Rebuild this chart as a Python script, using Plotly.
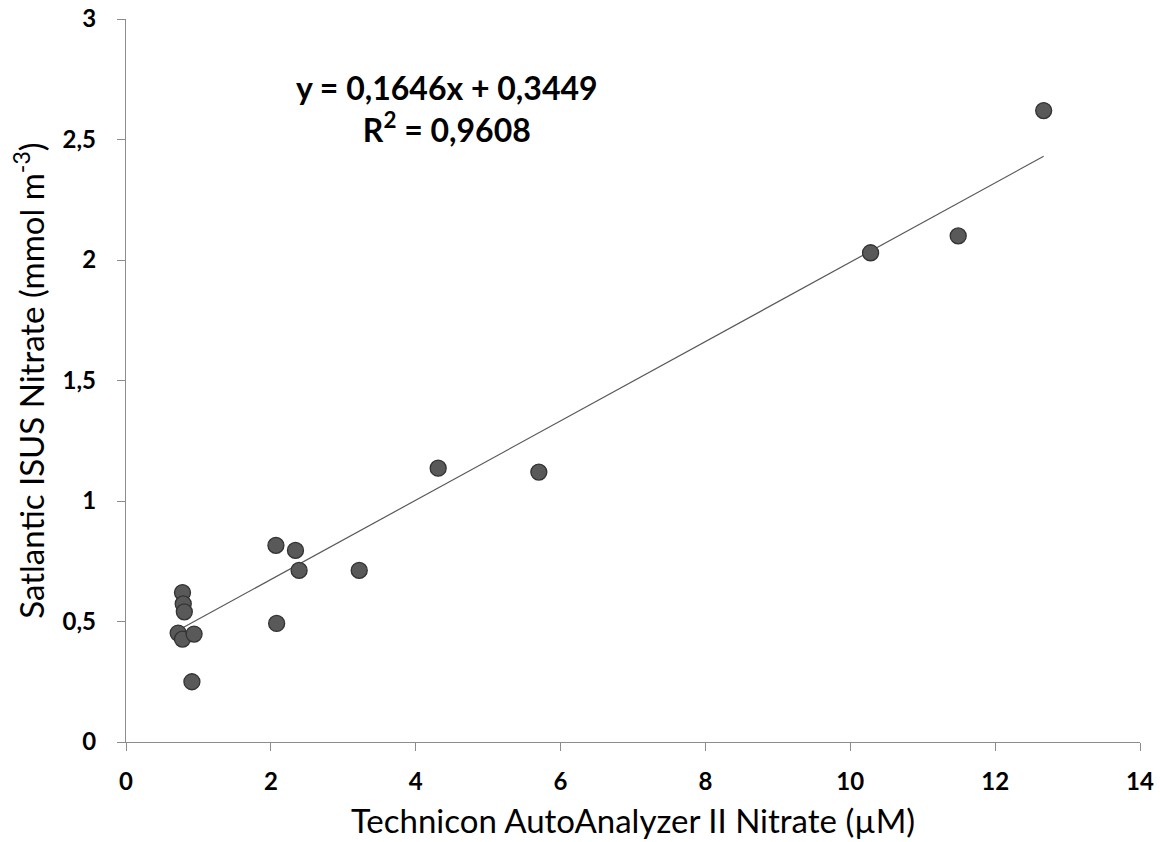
import plotly.graph_objects as go

# Data
x_vals = [0.72, 0.78, 0.79, 0.805, 0.78, 0.94, 0.91, 2.07, 2.34, 2.39, 3.22, 2.08, 4.31, 5.70, 10.28, 11.49, 12.67]
y_vals = [0.452, 0.62, 0.573, 0.54, 0.427, 0.448, 0.25, 0.816, 0.795, 0.712, 0.712, 0.492, 1.136, 1.12, 2.03, 2.10, 2.62]

slope = 0.1646
intercept = 0.3449
r2_text = "0,9608"

x_ticks = [0, 2, 4, 6, 8, 10, 12, 14]
y_ticks = [0, 0.5, 1, 1.5, 2, 2.5, 3]

x_line = [min(x_vals), max(x_vals)]
y_line = [slope * v + intercept for v in x_line]

L, R, T, B = 126, 1140, 19, 742

fig = go.Figure()
fig.add_trace(go.Scatter(x=x_line, y=y_line, mode="lines",
                         line=dict(color="#595959", width=1.2), hoverinfo="skip", showlegend=False))
fig.add_trace(go.Scatter(x=x_vals, y=y_vals, mode="markers",
                         marker=dict(size=16, color="#595959", line=dict(color="#333333", width=1.3)),
                         showlegend=False))

axis_common = dict(showgrid=False, zeroline=False, showline=True, linecolor="#8c8c8c", linewidth=1.3,
                   ticks="outside", ticklen=8, tickcolor="#8c8c8c", tickwidth=1.3, automargin=False,
                   tickfont=dict(family="Lato", size=24, color="#000000", weight="bold"))

fig.update_xaxes(range=[0, 14], tickvals=x_ticks, ticklabelstandoff=10,
                 title=dict(text="Technicon AutoAnalyzer II Nitrate (\u00b5M)",
                            font=dict(family="Lato", size=33, color="#000000"), standoff=15),
                 **axis_common)
fig.update_yaxes(range=[0, 3], tickvals=y_ticks, ticklabelstandoff=16,
                 title=dict(text="Satlantic ISUS Nitrate (mmol m<sup>-3</sup>)",
                            font=dict(family="Lato", size=33, color="#000000"), standoff=8),
                 **axis_common)

fig.add_annotation(x=(447 - L) / (R - L), y=(B - 108) / (B - T), xref="paper", yref="paper",
                   showarrow=False, xanchor="center", yanchor="middle", align="center",
                   text="<b>y = 0,1646x + 0,3449</b><br><b>R<sup>2</sup> = " + r2_text + "</b>",
                   font=dict(family="Lato", size=32, color="#000000"))

fig.update_layout(width=1160, height=842, margin=dict(l=L, r=1160 - R, t=T, b=842 - B),
                  plot_bgcolor="white", paper_bgcolor="white", separators=", ")

fig.write_html("out.html")
